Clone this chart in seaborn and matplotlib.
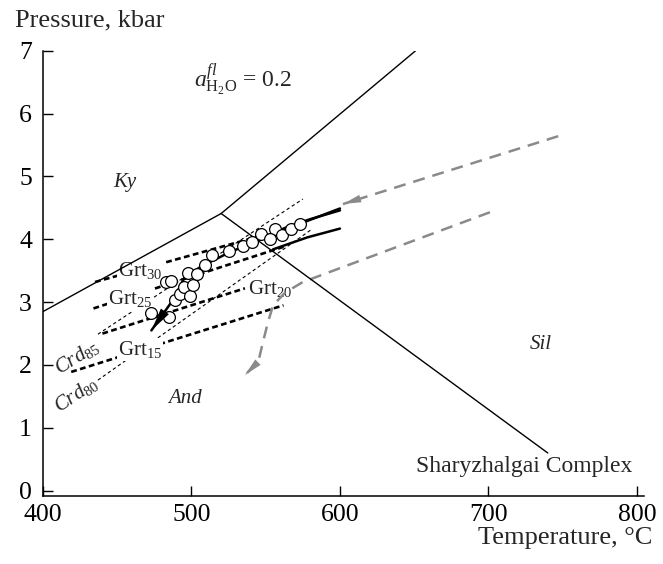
import matplotlib
matplotlib.use("Agg")
import matplotlib.pyplot as plt
import seaborn as sns

# ---- Al2SiO5 phase boundaries (T in °C, P in kbar) ----
ky_and_T = [400, 520]
ky_and_P = [2.85, 4.41]
ky_sil_T = [520, 651]
ky_sil_P = [4.41, 7.0]
and_sil_T = [520, 740]
and_sil_P = [4.41, 0.60]

# ---- garnet isopleths (thick dashed) ----
grt_names = ["30", "25", "20", "15"]
grt_T = [[435, 546], [434, 562], [440, 536], [419, 562]]
grt_P = [[3.32, 4.05], [2.90, 3.88], [2.50, 3.22], [1.89, 2.95]]
grt_label_T = [465.6, 458.6, 553.0, 465.3]
grt_label_P = [3.51, 3.05, 3.22, 2.25]

# ---- cordierite isopleths (thin dashed) ----
crd_names = ["85", "80"]
crd_T = [[437, 575], [437, 580.5]]
crd_P = [[2.49, 4.64], [1.76, 4.15]]
crd_label_T = [422.7, 422.2]
crd_label_P = [2.13, 1.52]
crd_label_rot = [32, 34]

# ---- P-T estimates ----
pt_T = [473, 485, 483, 486, 489, 492, 495, 499, 501, 498, 504,
        509, 514, 525, 535, 541, 547, 556, 553, 561, 567, 573]
pt_P = [2.82, 2.77, 3.32, 3.34, 3.03, 3.13, 3.24, 3.09, 3.27, 3.47, 3.45,
        3.59, 3.75, 3.82, 3.89, 3.96, 4.09, 4.17, 4.00, 4.07, 4.16, 4.25]

# ---- P-T path and trend curves ----
path_T = [600, 580, 560, 540, 522, 506, 495, 488, 473]
path_P = [4.49, 4.31, 4.12, 3.94, 3.75, 3.56, 3.38, 3.05, 2.55]
trend1_T = [550, 565, 580, 600]
trend1_P = [4.05, 4.20, 4.32, 4.46]
trend2_T = [555, 578, 600]
trend2_P = [3.84, 4.03, 4.17]

# ---- grey dashed arrows ----
gray1_T = [747, 602]
gray1_P = [5.64, 4.56]
gray2_T = [701, 575, 563, 555, 551.5, 548, 545, 536]
gray2_P = [4.43, 3.32, 3.15, 2.95, 2.68, 2.35, 2.05, 1.84]

x_ticks = [400, 500, 600, 700, 800]
y_ticks = [0, 1, 2, 3, 4, 5, 6, 7]

sns.set_style("ticks")
plt.rcParams["font.family"] = ["Liberation Serif", "DejaVu Serif"]
plt.rcParams["mathtext.fontset"] = "custom"
plt.rcParams["mathtext.rm"] = "Liberation Serif"
plt.rcParams["mathtext.it"] = "Liberation Serif:italic"
plt.rcParams["mathtext.bf"] = "Liberation Serif:bold"

fig = plt.figure(figsize=(6.63, 5.64), dpi=100)
ax = fig.add_axes([43 / 663, 68 / 564, 601.3 / 663, 445.3 / 564])

GRAY = "#8a8a8a"


def line(T, P, **kw):
    sns.lineplot(x=T, y=P, sort=False, estimator=None, ax=ax, **kw)


def head(T, P, color, scale=11):
    ax.annotate("", xy=(T[-1], P[-1]), xytext=(T[-2], P[-2]),
                arrowprops=dict(arrowstyle="-|>,head_length=1.2,head_width=0.25",
                                color=color, lw=0, shrinkA=0, shrinkB=0,
                                mutation_scale=scale), zorder=6)


# phase boundaries
for T, P in [(ky_and_T, ky_and_P), (ky_sil_T, ky_sil_P), (and_sil_T, and_sil_P)]:
    line(T, P, color="black", lw=1.0, zorder=4)

# isopleths
for T, P in zip(grt_T, grt_P):
    line(T, P, color="black", lw=1.9, ls=(0, (2.2, 1.3)), zorder=2)
for T, P in zip(crd_T, crd_P):
    line(T, P, color="black", lw=0.8, ls=(0, (3.0, 2.5)), zorder=2)

for name, t, p in zip(grt_names, grt_label_T, grt_label_P):
    ax.text(t, p, "Grt$_{%s}$" % name, fontsize=15, ha="center", va="center",
            zorder=3, bbox=dict(facecolor="white", edgecolor="none", pad=0.8))
for name, t, p, r in zip(crd_names, crd_label_T, crd_label_P, crd_label_rot):
    ax.text(t, p, "$Crd_{%s}$" % name, fontsize=15, ha="center", va="center",
            rotation=r, rotation_mode="anchor", zorder=3)

# grey dashed arrows
line(gray1_T, gray1_P, color=GRAY, lw=1.8, ls=(0, (4.8, 3.2)), zorder=3)
head(gray1_T, gray1_P, GRAY)
line(gray2_T, gray2_P, color=GRAY, lw=1.8, ls=(0, (4.8, 3.2)), zorder=3)
head(gray2_T, gray2_P, GRAY)

# trend curves and P-T path
line(trend1_T, trend1_P, color="black", lw=1.8, zorder=4)
line(trend2_T, trend2_P, color="black", lw=1.8, zorder=4)
line(path_T, path_P, color="black", lw=1.8, zorder=4)
head(path_T, path_P, "black", scale=14)

sns.scatterplot(x=pt_T, y=pt_P, s=72, color="white", edgecolor="black",
                linewidth=0.9, zorder=5, ax=ax)

# field labels
ax.text(455, 4.91, "Ky", fontsize=15, style="italic", ha="center", va="center")
ax.text(495.6, 1.47, "And", fontsize=15, style="italic", ha="center", va="center")
ax.text(735, 2.32, "Sil", fontsize=15, style="italic", ha="center", va="center")
ax.text(502, 6.53, r"$a^{fl}_{\mathrm{H_2O}}$ = 0.2", fontsize=17,
        ha="left", va="center")
ax.text(797, 0.39, "Sharyzhalgai Complex", fontsize=17, ha="right", va="center")

ax.set_xlim(400, 805)
ax.set_ylim(-0.084, 7.0)
ax.set_xticks(x_ticks)
ax.set_yticks(y_ticks)
ax.tick_params(direction="in", length=7.5, width=1.0, labelsize=18.5,
               colors="black")
ax.tick_params(axis="y", pad=8)
ax.tick_params(axis="x", pad=6)
for s in ["top", "right"]:
    ax.spines[s].set_visible(False)
for s in ["left", "bottom"]:
    ax.spines[s].set_linewidth(1.1)
    ax.spines[s].set_color("black")

ax.set_xlabel("Temperature, °C", fontsize=19, ha="right", va="center")
ax.xaxis.set_label_coords((652 - 43) / 601.3, -(538 - 496) / 445.3)
ax.set_ylabel("Pressure, kbar", fontsize=19, rotation=0, ha="left", va="center")
ax.yaxis.set_label_coords((15 - 43) / 601.3, (496 - 20) / 445.3)

fig.savefig("out.png", dpi=100)
